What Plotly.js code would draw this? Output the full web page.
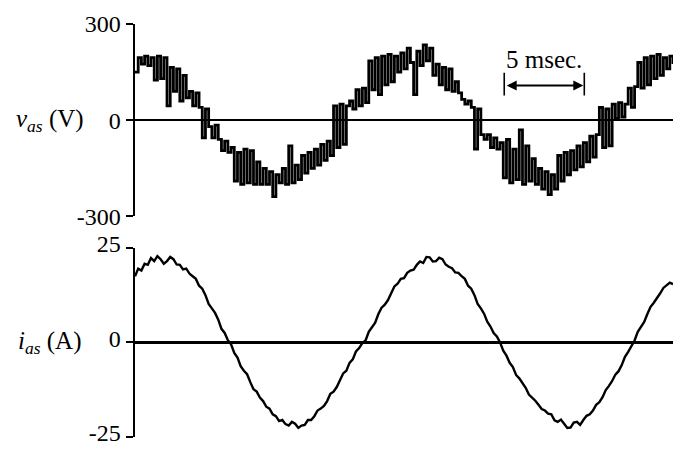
<!DOCTYPE html>
<html>
<head>
<meta charset="utf-8">
<script src="https://cdn.plot.ly/plotly-3.0.1.min.js"></script>
<style>html,body{margin:0;padding:0;background:#fff}#chart{width:675px;height:449px}</style>
</head>
<body>
<div id="chart"></div>
<script>
// sampling step of both records (ms)
const dt = 0.2;

// phase voltage v_as (V), one sample every 0.2 ms from 0 to 33.6 ms
const vasValues = [
 150,195,175,200,170,195,125,200,130,195,
 45,165,90,160,60,140,70,90,45,85,
 40,-55,35,-20,-55,-15,-60,-95,-65,-100,
 -85,-190,-100,-200,-90,-195,-95,-200,-130,-200,
 -150,-200,-160,-238,-170,-195,-150,-200,-80,-195,
 -140,-185,-110,-165,-100,-150,-90,-140,-75,-125,
 -65,-110,45,-85,50,-75,45,60,35,95,
 45,100,55,185,95,195,80,200,110,205,
 120,200,150,210,160,225,180,80,215,170,
 235,185,225,140,175,110,165,95,160,90,
 120,85,65,50,60,40,-90,35,-45,-60,
 -45,-85,-55,-90,-70,-180,-60,-195,-90,-185,
 -30,-200,-80,-190,-120,-200,-150,-215,-160,-232,
 -170,-215,-110,-190,-100,-170,-95,-155,-80,-145,
 -70,-130,-50,-115,-45,40,-85,35,-80,50,
 5,55,10,50,100,40,105,180,100,195,
 110,200,130,205,140,195,160,200,175
];

// phase current i_as (A), one sample every 0.2 ms from 0 to 33.6 ms
const iasValues = [
 17.5,19.5,19,20.8,20.5,22.3,21.5,22.8,22,20.8,
 21.5,22.6,22,20.6,20.5,19.3,19.5,18.2,17.5,16.8,
 15,14.2,12.5,10.2,9,7.8,6,3.6,2.5,0.6,
 -0.5,-2.8,-4,-6.3,-7.5,-8.4,-10.5,-12.4,-13,-14.6,
 -15.5,-17,-17.5,-19,-19.5,-20.8,-20.5,-21.6,-22,-21,
 -21.5,-22.6,-22,-21.8,-20.5,-20.5,-19.5,-18,-17.5,-16.8,
 -15.5,-13.6,-13,-11.8,-10,-8.2,-7.5,-5.4,-4.5,-2.4,
 -1.5,-0.2,0.5,2.8,4,5.2,7.5,9.2,10,11.2,
 13,14.8,15.5,16.8,17,18.4,19,19.2,20.5,21.4,
 21,22.6,22.5,21.4,21.5,22.4,22,20.6,20,19.6,
 18.5,18.4,17.5,16.8,15,14.2,12.5,10.2,9,7.6,
 5.5,4.2,2.5,1.6,0,-2.2,-3.5,-5.4,-6.5,-8.6,
 -9.5,-10.6,-12,-13.8,-14.5,-15.4,-16.5,-17.6,-18,-18.8,
 -19,-20.6,-21,-20.4,-21.5,-22.6,-22.5,-21.2,-21,-21.8,
 -20.5,-19.4,-19,-18,-16.5,-15.8,-14.5,-12.6,-11.5,-10.2,
 -8.5,-7.6,-6,-3.8,-2.5,-1,0.5,2.8,4,5.4,
 7.5,9.4,10.5,11.6,13,14.4,15,15.8,15.4
];

// tick labels
const vTicks = [-300, 0, 300];
const vTickText = ['-300', '0', '300'];
const iTicks = [-25, 0, 25];
const iTickText = ['-25', '0', '25'];

const tv = vasValues.map((_, k) => +(k * dt).toFixed(2));
const ti = iasValues.map((_, k) => +(k * dt).toFixed(2));

const serif = 'Liberation Serif, Times New Roman, serif';

const traces = [
  {x: tv, y: vasValues, xaxis: 'x', yaxis: 'y', type: 'scatter', mode: 'lines',
   line: {color: '#000', width: 2.8, shape: 'hv'}, hoverinfo: 'skip'},
  {x: ti, y: iasValues, xaxis: 'x2', yaxis: 'y2', type: 'scatter', mode: 'lines',
   line: {color: '#000', width: 2.4, shape: 'linear'}, hoverinfo: 'skip'}
];

const xCommon = {range: [0, 33.6], visible: false, showgrid: false, zeroline: false, fixedrange: true};
const yCommon = {
  showgrid: false, zeroline: true, zerolinecolor: '#000',
  showline: true, linecolor: '#000', linewidth: 2.5,
  ticks: 'outside', ticklen: 7, tickwidth: 2, tickcolor: '#000',
  ticklabeloverflow: 'allow',
  tickfont: {family: serif, size: 24, color: '#000'}, fixedrange: true
};

const layout = {
  width: 675, height: 449,
  margin: {l: 135, r: 2, t: 24, b: 12},
  paper_bgcolor: '#fff', plot_bgcolor: '#fff',
  showlegend: false,
  xaxis: Object.assign({}, xCommon, {domain: [0, 1], anchor: 'y'}),
  xaxis2: Object.assign({}, xCommon, {domain: [0, 1], anchor: 'y2'}),
  yaxis: Object.assign({}, yCommon, {domain: [0.534, 1], range: [-300, 300], anchor: 'x',
    tickvals: vTicks, ticktext: vTickText, zerolinewidth: 1.6}),
  yaxis2: Object.assign({}, yCommon, {domain: [0, 0.458], range: [-25, 25], anchor: 'x2',
    tickvals: iTicks, ticktext: iTickText, zerolinewidth: 3, ticklabelshift: -4}),
  shapes: [
    {type: 'line', xref: 'x', yref: 'y', x0: 23.06, x1: 23.06, y0: 77, y1: 148, line: {color: '#000', width: 1.6}},
    {type: 'line', xref: 'x', yref: 'y', x0: 28.06, x1: 28.06, y0: 77, y1: 148, line: {color: '#000', width: 1.6}}
  ],
  annotations: [
    {xref: 'paper', yref: 'y', x: -0.158, y: 0, xanchor: 'center', yanchor: 'middle', showarrow: false,
     text: '<i>v</i><sub><i>as</i></sub> (V)', font: {family: serif, size: 25, color: '#000'}},
    {xref: 'paper', yref: 'y2', x: -0.158, y: 0, xanchor: 'center', yanchor: 'middle', showarrow: false,
     text: '<i>i</i><sub><i>as</i></sub> (A)', font: {family: serif, size: 25, color: '#000'}},
    {xref: 'x', yref: 'y', x: 25.56, y: 188, xanchor: 'center', yanchor: 'middle', showarrow: false,
     text: '5 msec.', font: {family: serif, size: 25, color: '#000'}},
    {xref: 'x', yref: 'y', x: 28.0, y: 108, axref: 'x', ayref: 'y', ax: 23.12, ay: 108,
     showarrow: true, arrowside: 'end+start', arrowhead: 2, arrowsize: 1, arrowwidth: 2,
     arrowcolor: '#000', text: '', standoff: 0, startstandoff: 0}
  ]
};

Plotly.newPlot('chart', traces, layout, {staticPlot: true, displayModeBar: false});
</script>
</body>
</html>
